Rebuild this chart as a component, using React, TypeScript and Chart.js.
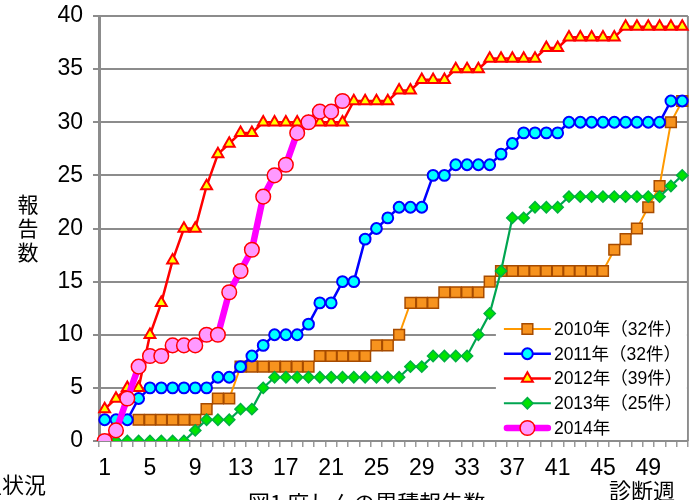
import React, { useEffect, useRef } from "react";
import { Chart, registerables } from "chart.js";

Chart.register(...registerables);

// ---- data ----
const weeks = [
  "1", "2", "3", "4", "5", "6", "7", "8", "9", "10", "11", "12", "13",
  "14", "15", "16", "17", "18", "19", "20", "21", "22", "23", "24", "25", "26",
  "27", "28", "29", "30", "31", "32", "33", "34", "35", "36", "37", "38", "39",
  "40", "41", "42", "43", "44", "45", "46", "47", "48", "49", "50", "51", "52",
];
const yMin = 0;
const yMax = 40;
const yStep = 5;
const labelEvery = 4;

const cases2010 = [
  null, null, null, 2, 2, 2, 2, 2, 2, 3, 4, 4, 7, 7, 7, 7, 7, 7, 7, 8, 8, 8, 8, 8, 9, 9,
  10, 13, 13, 13, 14, 14, 14, 14, 15, 16, 16, 16, 16, 16, 16, 16, 16, 16, 16, 18, 19, 20, 22, 24, 30, 32,
];
const cases2011 = [
  2, 2, 2, 4, 5, 5, 5, 5, 5, 5, 6, 6, 7, 8, 9, 10, 10, 10, 11, 13, 13, 15, 15, 19, 20, 21,
  22, 22, 22, 25, 25, 26, 26, 26, 26, 27, 28, 29, 29, 29, 29, 30, 30, 30, 30, 30, 30, 30, 30, 30, 32, 32,
];
const cases2012 = [
  3, 4, 5, 5, 10, 13, 17, 20, 20, 24, 27, 28, 29, 29, 30, 30, 30, 30, 30, 30, 30, 30, 32, 32, 32, 32,
  33, 33, 34, 34, 34, 35, 35, 35, 36, 36, 36, 36, 36, 37, 37, 38, 38, 38, 38, 38, 39, 39, 39, 39, 39, 39,
];
const cases2013 = [
  0, 0, 0, 0, 0, 0, 0, 0, 1, 2, 2, 2, 3, 3, 5, 6, 6, 6, 6, 6, 6, 6, 6, 6, 6, 6,
  6, 7, 7, 8, 8, 8, 8, 10, 12, 16, 21, 21, 22, 22, 22, 23, 23, 23, 23, 23, 23, 23, 23, 23, 24, 25,
];
const cases2014 = [
  0, 1, 4, 7, 8, 8, 9, 9, 9, 10, 10, 14, 16, 18, 23, 25, 26, 29, 30, 31, 31, 32,
];

const seriesLabels = [
  "2010年（32件）",
  "2011年（32件）",
  "2012年（39件）",
  "2013年（25件）",
  "2014年",
];
const yTitleChars = ["報", "告", "数"];
const xTitle = "診断週";
const caption = "図1 麻しんの累積報告数";
const sideText = "発生状況";

const LATIN = "'Liberation Sans', Arial, 'Noto Sans CJK JP', sans-serif";
const CJK = "'Noto Sans CJK JP', 'Liberation Sans', sans-serif";

function drawMarker(ctx: CanvasRenderingContext2D, style: string, x: number, y: number, r: number) {
  ctx.beginPath();
  if (style === "circle") {
    ctx.arc(x, y, r, 0, Math.PI * 2);
  } else if (style === "rect") {
    const s = r * Math.SQRT1_2;
    ctx.rect(x - s, y - s, 2 * s, 2 * s);
  } else if (style === "triangle") {
    ctx.moveTo(x, y - r);
    ctx.lineTo(x + r * 0.866, y + r * 0.5);
    ctx.lineTo(x - r * 0.866, y + r * 0.5);
    ctx.closePath();
  } else if (style === "rectRot") {
    ctx.moveTo(x - r, y);
    ctx.lineTo(x, y - r);
    ctx.lineTo(x + r, y);
    ctx.lineTo(x, y + r);
    ctx.closePath();
  }
  ctx.fill();
  ctx.stroke();
}

const decorPlugin = {
  id: "decor",
  beforeDatasetsDraw(chart: any) {
    const { ctx, chartArea } = chart;
    ctx.save();
    // right frame line
    ctx.strokeStyle = "#8c8c8c";
    ctx.lineWidth = 2;
    ctx.beginPath();
    ctx.moveTo(chartArea.right, chartArea.top);
    ctx.lineTo(chartArea.right, chartArea.bottom);
    ctx.stroke();
    // legend background
    ctx.fillStyle = "#ffffff";
    const lx = chartArea.right - 192;
    const ly = chartArea.bottom - 141;
    ctx.fillRect(lx, ly, chartArea.right - 1 - lx, chartArea.bottom - 2 - ly);
    ctx.restore();
  },
  afterDatasetsDraw(chart: any) {
    const { ctx, chartArea } = chart;
    ctx.save();
    const datasets = chart.data.datasets;
    const x0 = chartArea.right - 184;
    const x1 = chartArea.right - 137;
    const xm = (x0 + x1) / 2;
    const tx = chartArea.right - 134;
    for (let i = 0; i < datasets.length; i++) {
      const ds = datasets[i];
      const y = chartArea.bottom - 112 + i * 24.75;
      ctx.strokeStyle = ds.borderColor;
      ctx.lineWidth = ds.borderWidth;
      ctx.lineCap = ds.borderWidth > 4 ? "round" : "butt";
      ctx.beginPath();
      ctx.moveTo(x0 + (ds.borderWidth > 4 ? 3 : 0), y);
      ctx.lineTo(x1 - (ds.borderWidth > 4 ? 3 : 0), y);
      ctx.stroke();
      ctx.lineCap = "butt";
      ctx.fillStyle = ds.pointBackgroundColor;
      ctx.strokeStyle = ds.pointBorderColor;
      ctx.lineWidth = ds.pointBorderWidth;
      drawMarker(ctx, ds.pointStyle, xm, y, ds.pointRadius);
      ctx.fillStyle = "#000";
      ctx.font = `17.5px ${LATIN}`;
      ctx.textAlign = "left";
      ctx.textBaseline = "middle";
      ctx.fillText(seriesLabels[i], tx, y + 1);
    }
    ctx.restore();
  },
  afterDraw(chart: any) {
    const { ctx, chartArea } = chart;
    ctx.save();
    ctx.fillStyle = "#000";
    ctx.textBaseline = "middle";
    // y title (stacked)
    ctx.font = `21px ${CJK}`;
    ctx.textAlign = "center";
    yTitleChars.forEach((c, i) => ctx.fillText(c, 28, 204 + i * 24));
    // x title
    ctx.font = `22px ${CJK}`;
    ctx.fillText(xTitle, chartArea.right - 46, 491);
    // caption (cut by page bottom)
    ctx.textAlign = "left";
    ctx.fillText(caption, 248, 503);
    // side text cut at left edge
    ctx.textAlign = "right";
    ctx.fillText(sideText, 46, 485);
    ctx.restore();
  },
};

export default function App() {
  const ref = useRef<HTMLCanvasElement | null>(null);
  useEffect(() => {
    document.body.style.margin = "0";
    const canvas = ref.current;
    if (!canvas) return;
    const chart = new Chart(canvas, {
      type: "line",
      data: {
        labels: weeks,
        datasets: [
          {
            label: seriesLabels[0],
            data: cases2010,
            borderColor: "#FF9900",
            borderWidth: 2,
            pointStyle: "rect",
            pointRadius: 7.6,
            pointBackgroundColor: "#F7931E",
            pointBorderColor: "#A64B00",
            pointBorderWidth: 1.5,
            order: 4,
            spanGaps: false,
          },
          {
            label: seriesLabels[1],
            data: cases2011,
            borderColor: "#0000FF",
            borderWidth: 2.5,
            pointStyle: "circle",
            pointRadius: 5.4,
            pointBackgroundColor: "#00FFFF",
            pointBorderColor: "#0000FF",
            pointBorderWidth: 2,
            order: 3,
          },
          {
            label: seriesLabels[2],
            data: cases2012,
            borderColor: "#FF0000",
            borderWidth: 2.5,
            pointStyle: "triangle",
            pointRadius: 6.3,
            pointBackgroundColor: "#FFFF00",
            pointBorderColor: "#FF0000",
            pointBorderWidth: 2,
            order: 2,
          },
          {
            label: seriesLabels[3],
            data: cases2013,
            borderColor: "#00A550",
            borderWidth: 2.2,
            pointStyle: "rectRot",
            pointRadius: 5.6,
            pointBackgroundColor: "#00E400",
            pointBorderColor: "#00B040",
            pointBorderWidth: 1.5,
            order: 1,
          },
          {
            label: seriesLabels[4],
            data: cases2014,
            borderColor: "#FF00FF",
            borderWidth: 6.5,
            pointStyle: "circle",
            pointRadius: 7.3,
            pointBackgroundColor: "#FF99FF",
            pointBorderColor: "#FF0000",
            pointBorderWidth: 1.5,
            order: 0,
          },
        ],
      },
      options: {
        animation: false,
        responsive: false,
        events: [],
        layout: { padding: { top: 16, right: 9, left: 0, bottom: 0 } },
        plugins: { legend: { display: false }, tooltip: { enabled: false } },
        elements: { line: { tension: 0 } },
        scales: {
          x: {
            type: "category",
            offset: true,
            grid: {
              offset: true,
              drawOnChartArea: false,
              drawTicks: true,
              tickLength: 6,
              color: "#9a9a9a",
              lineWidth: 1.5,
            },
            border: { display: true, color: "#8c8c8c", width: 2 },
            ticks: {
              autoSkip: false,
              maxRotation: 0,
              minRotation: 0,
              padding: 8,
              color: "#000",
              font: { family: LATIN, size: 23 },
              callback: (_v: any, i: number) => (i % labelEvery === 0 ? weeks[i] : ""),
            },
            afterFit: (s: any) => {
              s.height = 59;
              s.paddingLeft = 0;
              s.paddingRight = 0;
            },
          },
          y: {
            min: yMin,
            max: yMax,
            ticks: {
              stepSize: yStep,
              padding: 10,
              color: "#000",
              font: { family: LATIN, size: 23 },
            },
            grid: { color: "#8c8c8c", lineWidth: 2, tickLength: 6, drawTicks: true },
            border: { display: true, color: "#8c8c8c", width: 3 },
            afterFit: (s: any) => {
              s.width = 99;
              s.paddingTop = 0;
              s.paddingBottom = 0;
            },
          },
        },
      },
      plugins: [decorPlugin],
    } as any);
    return () => chart.destroy();
  }, []);
  return <canvas ref={ref} width={697} height={500} style={{ display: "block" }} />;
}
